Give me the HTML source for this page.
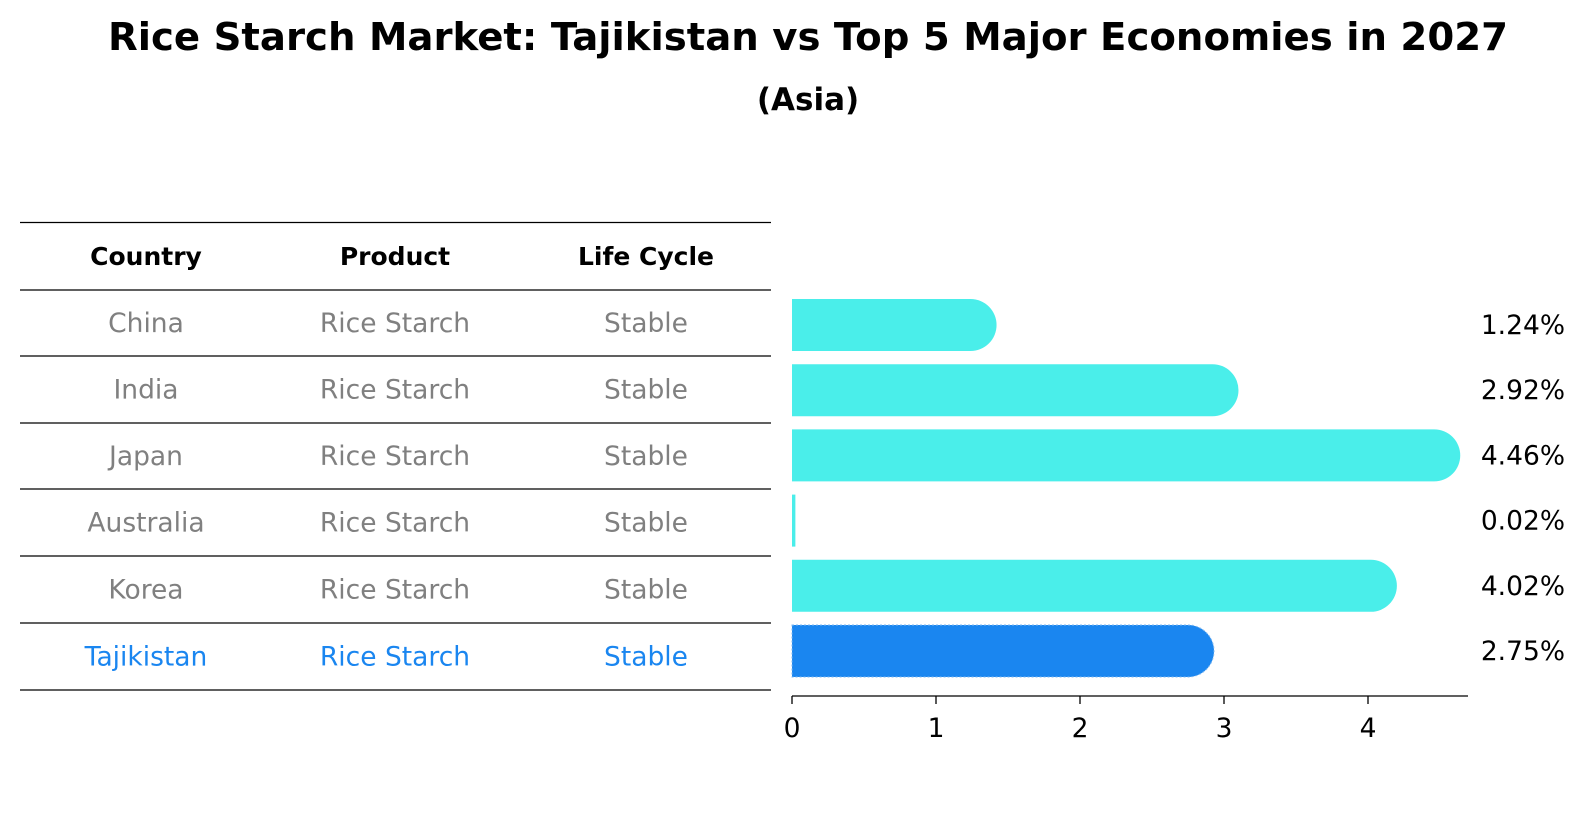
<!DOCTYPE html>
<html><head><meta charset="utf-8"><style>
body{margin:0;background:#fff;font-family:"Liberation Sans","DejaVu Sans",sans-serif;}
</style></head><body>
<svg width="1586" height="823" xmlns="http://www.w3.org/2000/svg" font-family="DejaVu Sans, Liberation Sans, sans-serif">
<text x="808" y="50" text-anchor="middle" font-size="38" font-weight="bold" textLength="1400" lengthAdjust="spacingAndGlyphs">Rice Starch Market: Tajikistan vs Top 5 Major Economies in 2027</text>
<text x="808" y="110" text-anchor="middle" font-size="31" font-weight="bold">(Asia)</text>
<g id="table"></g>
<g id="bars"></g>
</svg>
<script>
const countries=["China","India","Japan","Australia","Korea","Tajikistan"];
const products=["Rice Starch","Rice Starch","Rice Starch","Rice Starch","Rice Starch","Rice Starch"];
const lifeCycles=["Stable","Stable","Stable","Stable","Stable","Stable"];
const values=[1.24,2.92,4.46,0.02,4.02,2.75];
const tickValues=[0,1,2,3,4];
const NS="http://www.w3.org/2000/svg";
function mk(t,a,p){const e=document.createElementNS(NS,t);for(const k in a)e.setAttribute(k,a[k]);p.appendChild(e);return e;}
const tb=document.getElementById('table');
const lineY=[222.5,290,356,423,489,556,623,690];
lineY.forEach(y=>{const l=mk('line',{x1:20,x2:771,y1:y,y2:y,stroke:'#000','stroke-width':1.2},tb);

});
const colX=[146,395,646];
["Country","Product","Life Cycle"].forEach((h,i)=>{const t=mk('text',{x:colX[i],y:265,'text-anchor':'middle','font-size':25,'font-weight':'bold'},tb);t.textContent=h;

});
countries.forEach((c,r)=>{const y=(lineY[r+1]+lineY[r+2])/2+9;const col=r==countries.length-1?'#1a86f0':'#808080';
[c,products[r],lifeCycles[r]].forEach((v,i)=>{const t=mk('text',{x:colX[i],y:y,'text-anchor':'middle','font-size':26.5,fill:col},tb);t.textContent=v;

});});
const bg=document.getElementById('bars');
const x0=792,ppu=144;const xs=v=>x0+v*ppu;
const yc=i=>325+i*65.2;const h=52,r=26;
values.forEach((v,i)=>{const last=i==values.length-1;const col=last?'#1a86f0':'#4aeeea';
const xe=xs(v);const top=yc(i)-h/2;
let d;
if(v*ppu<r){d=`M${x0},${top}H${xe+0.5}V${top+h}H${x0}Z`;}
else d=`M${x0},${top}H${xe}A${r},${r} 0 0 1 ${xe},${top+h}H${x0}Z`;
const p=mk('path',{d:d,fill:col},bg);
if(last){p.setAttribute('stroke','#7fb8f0');p.setAttribute('stroke-dasharray','2,2');p.setAttribute('stroke-width','1');}


const t=mk('text',{x:1565,y:yc(i)+9,'text-anchor':'end','font-size':26.5},bg);t.textContent=v.toFixed(2)+'%';

});
const ax=mk('line',{x1:x0,x2:1468,y1:696,y2:696,stroke:'#000','stroke-width':1.3},bg);


tickValues.forEach(v=>{const l=mk('line',{x1:xs(v),x2:xs(v),y1:696,y2:704,stroke:'#000','stroke-width':1.3},bg);


const t=mk('text',{x:xs(v),y:737,'text-anchor':'middle','font-size':26.5},bg);t.textContent=v;

});
</script>
</body></html>
